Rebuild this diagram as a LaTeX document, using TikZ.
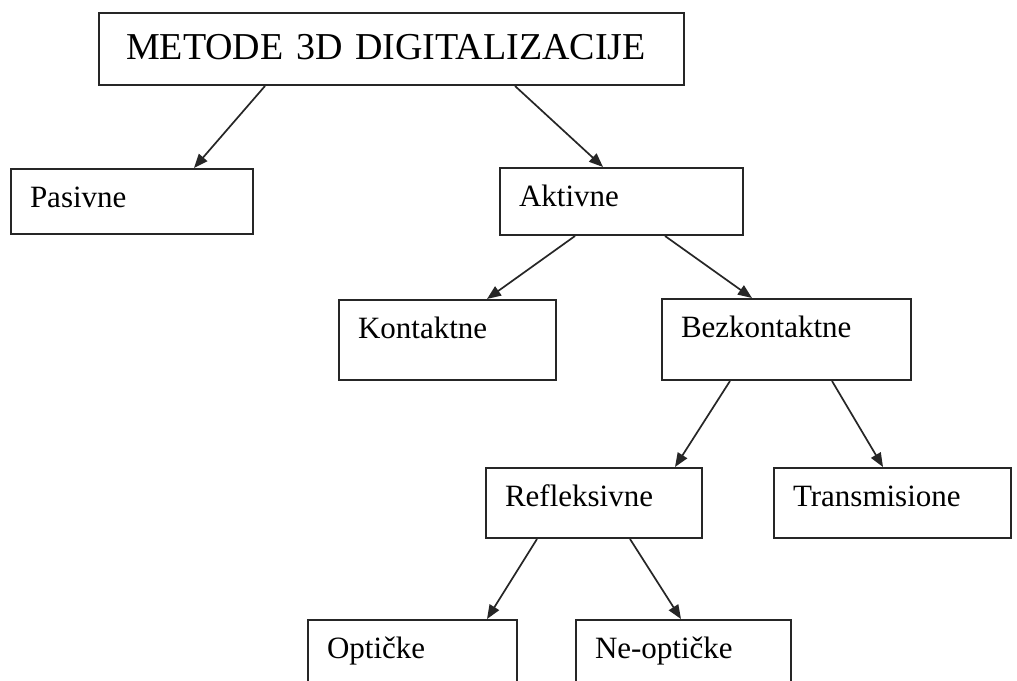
\documentclass[tikz,border=0pt]{standalone}
\usepackage{fontspec}
\setmainfont{Liberation Serif}
\usepackage{tikz}
\usetikzlibrary{arrows.meta}

\tikzset{
kutija/.style={draw=black!85, line width=2pt, anchor=north west, inner xsep=19pt, inner ysep=0pt, align=left, text height=38pt, font=\fontsize{31}{36}\selectfont},
naslov/.style={kutija, inner xsep=27pt, text height=46pt, font=\fontsize{38}{44}\selectfont},
strelica/.style={black!85, line width=1.7pt, -{Triangle[length=14pt,width=11pt]}}
}

\begin{document}
\begin{tikzpicture}[x=1pt, y=-1pt]

\clip (0,0) rectangle (1017,680);
\fill[white] (0,0) rectangle (1017,680);

%level 0%
\node[naslov, text width=531pt, text depth=26pt] (metode) at (98,12) {METODE 3D DIGITALIZACIJE};

%level 1%
\node[kutija, text width=204pt, text depth=27pt] (pasivne) at (10,168) {Pasivne};
\node[kutija, text width=205pt, text depth=29pt] (aktivne) at (499,167) {Aktivne};

%level 2%
\node[kutija, text width=179pt, text depth=42pt] (kontaktne) at (338,299) {Kontaktne};
\node[kutija, text width=211pt, text depth=43pt] (bezkontaktne) at (661,298) {Bezkontaktne};

%level 3%
\node[kutija, text width=178pt, text depth=32pt] (refleksivne) at (485,467) {Refleksivne};
\node[kutija, text width=199pt, text depth=32pt] (transmisione) at (773,467) {Transmisione};

%level 4%
\node[kutija, text width=171pt, text depth=45pt] (opticke) at (307,619) {Optičke};
\node[kutija, text width=177pt, text depth=45pt] (neopticke) at (575,619) {Ne-optičke};

%arrows
\draw[strelica] ([xshift=167pt]metode.south west) -- ([xshift=184pt]pasivne.north west);
\draw[strelica] ([xshift=417pt]metode.south west) -- ([xshift=104pt]aktivne.north west);
\draw[strelica] ([xshift=76pt]aktivne.south west) -- ([xshift=149pt]kontaktne.north west);
\draw[strelica] ([xshift=166pt]aktivne.south west) -- ([xshift=91pt]bezkontaktne.north west);
\draw[strelica] ([xshift=69pt]bezkontaktne.south west) -- ([xshift=190pt]refleksivne.north west);
\draw[strelica] ([xshift=171pt]bezkontaktne.south west) -- ([xshift=110pt]transmisione.north west);
\draw[strelica] ([xshift=52pt]refleksivne.south west) -- ([xshift=180pt]opticke.north west);
\draw[strelica] ([xshift=145pt]refleksivne.south west) -- ([xshift=106pt]neopticke.north west);

\end{tikzpicture}
\end{document}
